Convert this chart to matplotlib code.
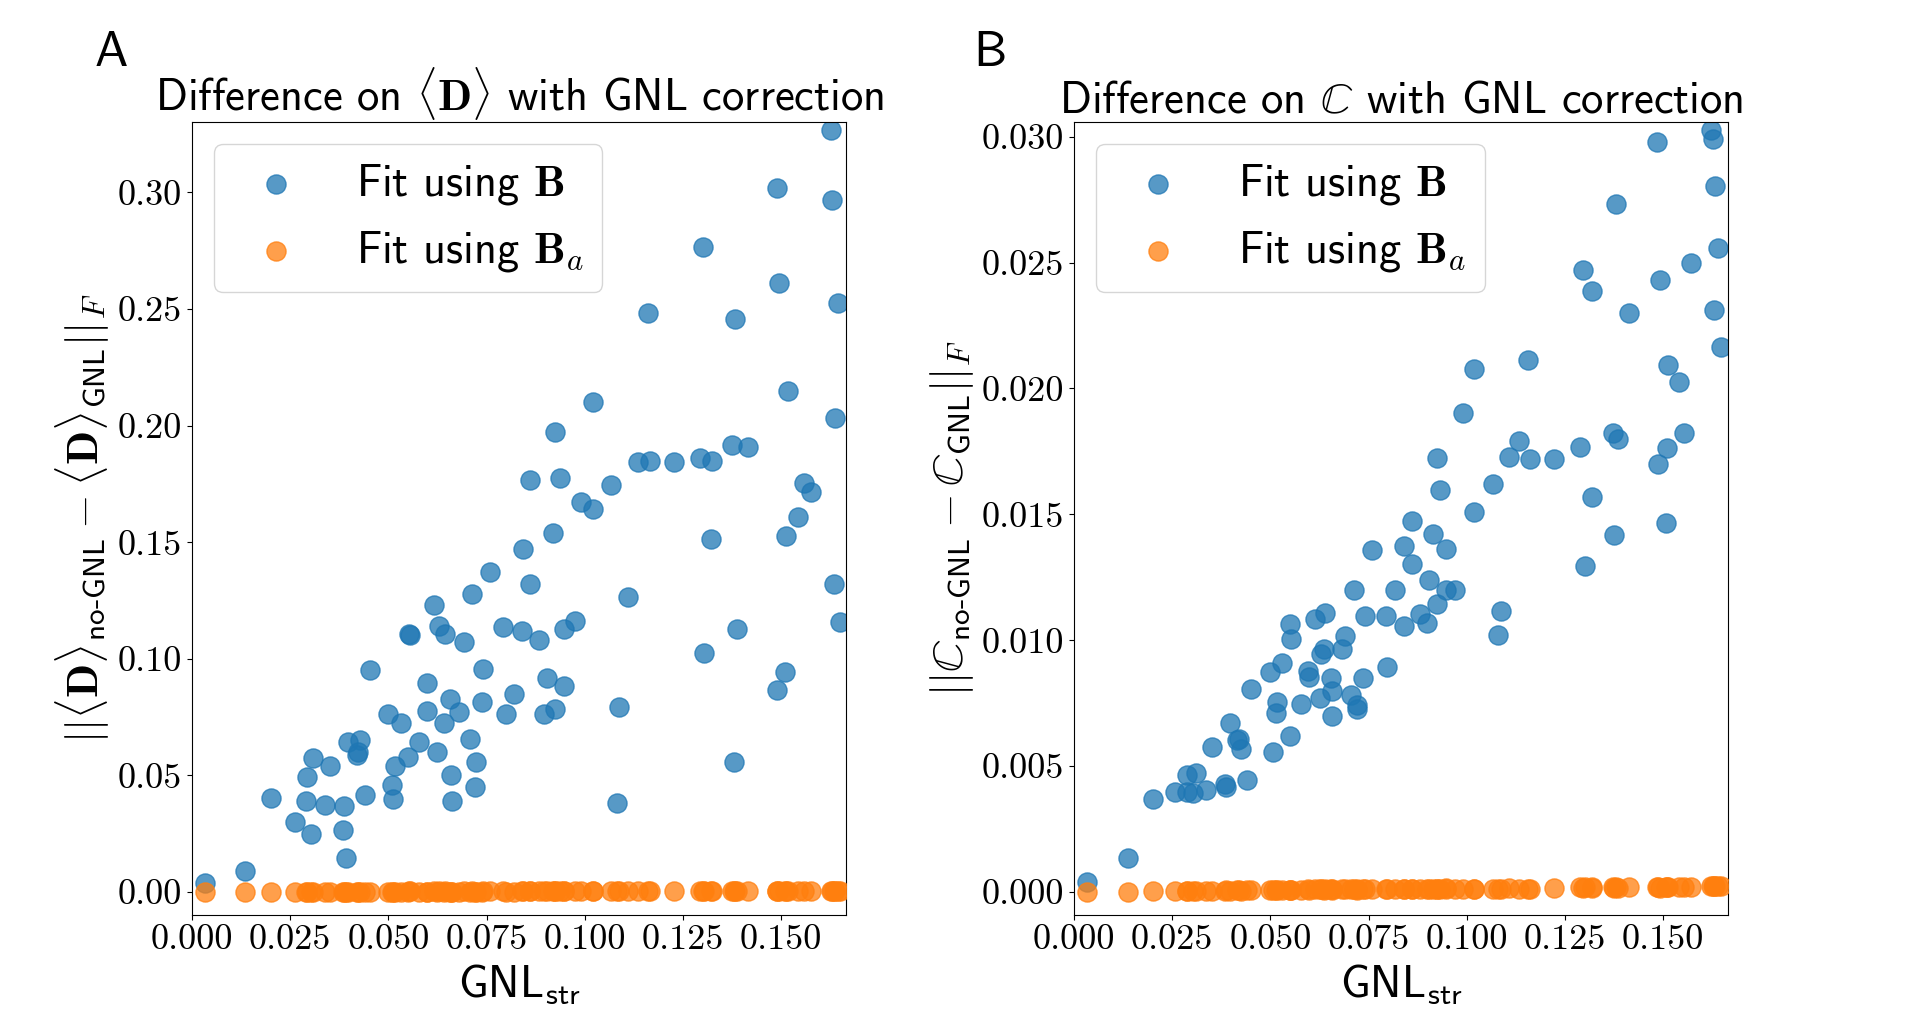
import matplotlib
matplotlib.use("Agg")
import matplotlib.pyplot as plt
from matplotlib.ticker import FormatStrFormatter, MultipleLocator

plt.rcParams['font.family'] = 'cmss10'
plt.rcParams['mathtext.fontset'] = 'cm'
plt.rcParams['axes.unicode_minus'] = False
plt.rcParams['axes.formatter.use_mathtext'] = True

# ---------------- data (panel A) ----------------
gnl_A = [0.0032, 0.0136, 0.0202, 0.0261, 0.0304, 0.0289, 0.0292, 0.0309, 0.0338, 0.0352,
         0.0386, 0.0384, 0.0391, 0.0398, 0.0427, 0.0423, 0.0419, 0.0440, 0.0452, 0.0500,
         0.0531, 0.0518, 0.0509, 0.0513, 0.0549, 0.0577, 0.0553, 0.0555, 0.0598, 0.0598,
         0.0625, 0.0616, 0.0630, 0.0644, 0.0641, 0.0656, 0.0681, 0.0659, 0.0662, 0.0692,
         0.0707, 0.0723, 0.0720, 0.0712, 0.0741, 0.0738, 0.0759, 0.0793, 0.0820, 0.0799,
         0.0840, 0.0842, 0.0860, 0.0860, 0.0883, 0.0936, 0.1068, 0.0991, 0.1022, 0.0918,
         0.1110, 0.0974, 0.0948, 0.0905, 0.0948, 0.0924, 0.0897, 0.1086, 0.1082, 0.1321,
         0.1304, 0.1388, 0.1380, 0.1559, 0.1576, 0.1543, 0.1513, 0.1509, 0.1490, 0.1635,
         0.1650, 0.1628, 0.1490, 0.1630, 0.1301, 0.1495, 0.1645, 0.1161, 0.1383, 0.1518,
         0.1638, 0.1020, 0.0923, 0.1135, 0.1166, 0.1227, 0.1293, 0.1324, 0.1374, 0.1416]

diffD_B = [0.0037, 0.0090, 0.0402, 0.0299, 0.0247, 0.0390, 0.0492, 0.0575, 0.0373, 0.0539,
           0.0369, 0.0264, 0.0144, 0.0642, 0.0652, 0.0602, 0.0587, 0.0415, 0.0951, 0.0762,
           0.0723, 0.0540, 0.0459, 0.0397, 0.0578, 0.0642, 0.1106, 0.1104, 0.0896, 0.0775,
           0.0599, 0.1229, 0.1141, 0.1105, 0.0725, 0.0828, 0.0770, 0.0502, 0.0389, 0.1071,
           0.0655, 0.0556, 0.0449, 0.1277, 0.0955, 0.0813, 0.1371, 0.1135, 0.0848, 0.0762,
           0.1119, 0.1469, 0.1319, 0.1769, 0.1081, 0.1776, 0.1745, 0.1671, 0.1641, 0.1538,
           0.1264, 0.1162, 0.1126, 0.0918, 0.0882, 0.0785, 0.0762, 0.0792, 0.0380, 0.1512,
           0.1023, 0.1126, 0.0556, 0.1755, 0.1714, 0.1607, 0.1527, 0.0942, 0.0865, 0.1319,
           0.1157, 0.3266, 0.3019, 0.2966, 0.2764, 0.2610, 0.2524, 0.2481, 0.2457, 0.2148,
           0.2033, 0.2101, 0.1973, 0.1844, 0.1848, 0.1844, 0.1861, 0.1848, 0.1917, 0.1908]

diffD_Ba = [0.0000, 0.0000, 0.0001, 0.0001, 0.0001, 0.0001, 0.0001, 0.0001, 0.0001, 0.0001,
            0.0001, 0.0001, 0.0001, 0.0002, 0.0002, 0.0002, 0.0002, 0.0002, 0.0002, 0.0002,
            0.0002, 0.0002, 0.0002, 0.0002, 0.0002, 0.0002, 0.0003, 0.0003, 0.0002, 0.0002,
            0.0002, 0.0003, 0.0003, 0.0003, 0.0002, 0.0002, 0.0002, 0.0002, 0.0002, 0.0003,
            0.0002, 0.0002, 0.0002, 0.0003, 0.0003, 0.0002, 0.0003, 0.0003, 0.0002, 0.0002,
            0.0003, 0.0003, 0.0003, 0.0003, 0.0003, 0.0003, 0.0003, 0.0003, 0.0003, 0.0003,
            0.0003, 0.0003, 0.0003, 0.0003, 0.0003, 0.0003, 0.0003, 0.0003, 0.0003, 0.0004,
            0.0004, 0.0004, 0.0004, 0.0004, 0.0004, 0.0004, 0.0004, 0.0004, 0.0004, 0.0004,
            0.0004, 0.0005, 0.0005, 0.0005, 0.0004, 0.0005, 0.0005, 0.0004, 0.0004, 0.0004,
            0.0005, 0.0004, 0.0003, 0.0004, 0.0004, 0.0004, 0.0004, 0.0004, 0.0004, 0.0004]

# ---------------- data (panel B) ----------------
gnl_C = [0.0032, 0.0137, 0.0202, 0.0258, 0.0288, 0.0310, 0.0288, 0.0302, 0.0336, 0.0351,
         0.0385, 0.0388, 0.0440, 0.0396, 0.0421, 0.0424, 0.0414, 0.0507, 0.0450, 0.0498,
         0.0529, 0.0518, 0.0513, 0.0550, 0.0550, 0.0552, 0.0577, 0.0596, 0.0598, 0.0613,
         0.0640, 0.0637, 0.0629, 0.0626, 0.0654, 0.0657, 0.0658, 0.0691, 0.0681, 0.0705,
         0.0720, 0.0720, 0.0735, 0.0712, 0.0740, 0.0758, 0.0793, 0.0796, 0.0816, 0.0839,
         0.0839, 0.0860, 0.0860, 0.0880, 0.0933, 0.1066, 0.1019, 0.0915, 0.0948, 0.0903,
         0.0946, 0.0971, 0.0925, 0.0898, 0.1086, 0.1079, 0.1320, 0.1376, 0.1302, 0.1506,
         0.1622, 0.1627, 0.1485, 0.1631, 0.1381, 0.1640, 0.1572, 0.1297, 0.1493, 0.1320,
         0.1414, 0.1630, 0.1647, 0.1157, 0.1018, 0.1513, 0.1539, 0.0990, 0.1554, 0.1371,
         0.1384, 0.1510, 0.1488, 0.1132, 0.1107, 0.1162, 0.1223, 0.1289, 0.0924]

diffC_B = [0.00041, 0.00135, 0.00369, 0.00396, 0.00463, 0.00471, 0.00396, 0.00392, 0.00405, 0.00575,
           0.00429, 0.00415, 0.00444, 0.00673, 0.00606, 0.00566, 0.00603, 0.00554, 0.00808, 0.00872,
           0.00911, 0.00753, 0.00709, 0.00618, 0.01063, 0.01004, 0.00746, 0.00877, 0.00854, 0.01083,
           0.01110, 0.00967, 0.00946, 0.00769, 0.00849, 0.00798, 0.00697, 0.01017, 0.00967, 0.00784,
           0.00742, 0.00725, 0.00849, 0.01201, 0.01095, 0.01360, 0.01095, 0.00892, 0.01198, 0.01058,
           0.01376, 0.01304, 0.01474, 0.01103, 0.01598, 0.01620, 0.01511, 0.01420, 0.01364, 0.01238,
           0.01198, 0.01198, 0.01143, 0.01070, 0.01115, 0.01020, 0.01567, 0.01417, 0.01294, 0.01467,
           0.03026, 0.02989, 0.02980, 0.02802, 0.02734, 0.02556, 0.02500, 0.02472, 0.02429, 0.02385,
           0.02298, 0.02310, 0.02163, 0.02111, 0.02079, 0.02095, 0.02024, 0.01901, 0.01821, 0.01821,
           0.01799, 0.01762, 0.01698, 0.01790, 0.01726, 0.01718, 0.01718, 0.01766, 0.01722]

diffC_Ba = [0.00000, 0.00001, 0.00002, 0.00003, 0.00004, 0.00005, 0.00003, 0.00004, 0.00004, 0.00005,
            0.00005, 0.00006, 0.00006, 0.00005, 0.00006, 0.00005, 0.00006, 0.00008, 0.00006, 0.00007,
            0.00008, 0.00009, 0.00007, 0.00008, 0.00009, 0.00008, 0.00009, 0.00010, 0.00008, 0.00010,
            0.00012, 0.00009, 0.00010, 0.00011, 0.00010, 0.00012, 0.00009, 0.00011, 0.00013, 0.00010,
            0.00011, 0.00009, 0.00012, 0.00010, 0.00011, 0.00012, 0.00010, 0.00011, 0.00012, 0.00010,
            0.00011, 0.00013, 0.00010, 0.00011, 0.00013, 0.00012, 0.00012, 0.00012, 0.00014, 0.00011,
            0.00012, 0.00013, 0.00011, 0.00012, 0.00013, 0.00011, 0.00019, 0.00017, 0.00018, 0.00018,
            0.00024, 0.00023, 0.00019, 0.00025, 0.00019, 0.00024, 0.00021, 0.00017, 0.00017, 0.00016,
            0.00020, 0.00022, 0.00024, 0.00012, 0.00013, 0.00020, 0.00019, 0.00012, 0.00018, 0.00018,
            0.00017, 0.00019, 0.00020, 0.00013, 0.00014, 0.00011, 0.00016, 0.00018, 0.00011]

titles = [r'Difference on $\langle\mathbf{D}\rangle$ with GNL correction',
          r'Difference on $\mathbb{C}$ with GNL correction']
ylabels = [r'$||\langle \mathbf{D} \rangle_{\mathsf{no}\text{-}\mathsf{GNL}} - \langle \mathbf{D} \rangle_{\mathsf{GNL}}||_F$',
           r'$||\mathbb{C}_{\mathsf{no}\text{-}\mathsf{GNL}} - \mathbb{C}_{\mathsf{GNL}}||_F$']
xlabel = r'$\mathsf{GNL}_{\mathsf{str}}$'
legend_labels = [r'Fit using $\mathbf{B}$', r'Fit using $\mathbf{B}_a$']
panel_letters = ['A', 'B']

BLUE = '#1f77b4'
ORANGE = '#ff7f0e'

fig = plt.figure(figsize=(19.2, 10.17), dpi=100)
axA = fig.add_axes([0.1, 0.1003, 0.3406, 0.7797])
axB = fig.add_axes([0.5594, 0.1003, 0.3406, 0.7797])

panels = [
    (axA, gnl_A, diffD_B, diffD_Ba, (-0.00986, 0.3302), 0.05, '%.2f'),
    (axB, gnl_C, diffC_B, diffC_Ba, (-0.000914, 0.03058), 0.005, '%.3f'),
]

for i, (ax, x, yb, yba, ylim, ystep, yfmt) in enumerate(panels):
    ax.scatter(x, yb, s=190, color=BLUE, alpha=0.75, label=legend_labels[0], zorder=2)
    ax.scatter(x, yba, s=190, color=ORANGE, alpha=0.75, label=legend_labels[1], zorder=3)
    ax.set_xlim(0, 0.1665)
    ax.set_ylim(*ylim)
    ax.xaxis.set_major_locator(MultipleLocator(0.025))
    ax.yaxis.set_major_locator(MultipleLocator(ystep))
    ax.xaxis.set_major_formatter(FormatStrFormatter('%.3f'))
    ax.yaxis.set_major_formatter(FormatStrFormatter(yfmt))
    for lab in ax.get_xticklabels() + ax.get_yticklabels():
        lab.set_fontfamily('cmr10')
        lab.set_fontsize(26)
    ax.set_title(titles[i], fontsize=32)
    ax.set_xlabel(xlabel, fontsize=32)
    ax.set_ylabel(ylabels[i], fontsize=32)
    ax.legend(loc='upper left', fontsize=32)

fig.text(0.0495, 0.935, panel_letters[0], fontsize=36, ha='left', va='baseline')
fig.text(0.507, 0.935, panel_letters[1], fontsize=36, ha='left', va='baseline')

fig.savefig('out.png', dpi=100)
